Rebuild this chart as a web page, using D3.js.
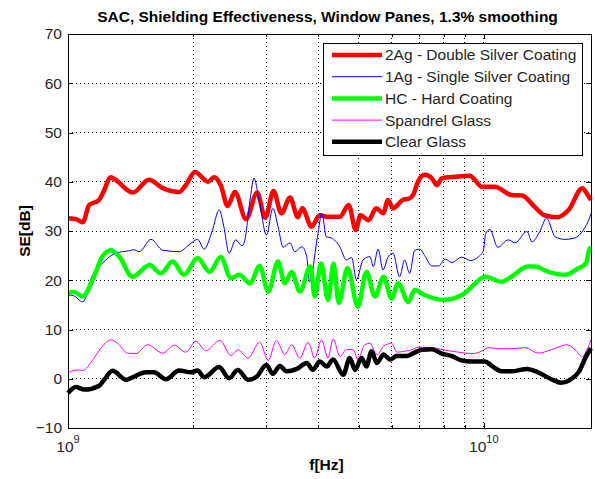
<!DOCTYPE html>
<html>
<head>
<meta charset="utf-8">
<script src="https://cdn.jsdelivr.net/npm/d3@7"></script>
<style>
  body { margin: 0; background: #fff; }
  text { font-family: Arial, "Liberation Sans", Helvetica, sans-serif; }
</style>
</head>
<body>
<div class="canvas"></div>
<script>
// Frequencies in GHz, shielding effectiveness in dB
const freq2Ag = [1.00,1.045,1.085,1.125,1.185,1.213,1.268,1.30,1.433,1.566,1.69,1.85,1.92,2.02,2.17,2.245,2.33,2.42,2.52,2.68,2.85,2.98,3.12,3.26,3.42,3.57,3.66,3.85,4.03,4.19,4.51,4.73,4.92,5.05,5.28,5.51,5.73,5.88,6.05,6.38,6.62,6.78,6.94,7.21,7.5,7.71,7.93,8.52,9.26,9.51,9.89,10.62,11.65,12.35,13.25,13.99,15.05,16.0,17.25,17.8,18.1]
const se2Ag = [32.6,32.4,31.8,35.3,36.2,37.7,40.9,40.4,37.8,40.4,38.7,37.9,39.3,42.0,40.0,40.9,39.3,35.1,37.9,32.4,37.8,32.7,38.1,33.6,36.8,32.8,34.6,30.9,33.2,32.9,32.9,35.3,30.2,33.2,32.2,34.6,33.6,36.3,34.6,36.3,36.6,37.5,40.0,41.4,40.7,39.3,40.7,41.0,41.2,40.4,39.0,39.0,37.3,37.2,34.9,33.2,32.8,34.3,38.7,37.2,36.3]

const freq1Ag = [1.00,1.028,1.085,1.146,1.19,1.305,1.405,1.44,1.483,1.584,1.69,1.85,1.955,2.05,2.125,2.22,2.31,2.37,2.44,2.53,2.62,2.66,2.74,2.80,2.89,3.0,3.11,3.2,3.29,3.42,3.51,3.65,3.75,3.81,3.98,4.08,4.18,4.30,4.51,4.67,4.81,4.94,5.12,5.32,5.42,5.57,5.72,5.89,6.05,6.27,6.45,6.63,6.82,7.01,7.23,7.5,7.78,8.07,8.38,8.85,9.28,9.72,9.98,10.1,10.34,10.8,11.45,11.88,12.7,13.05,13.63,14.15,14.85,15.68,16.57,17.35,18.0,18.1]
const se1Ag = [17.0,16.9,15.6,21.1,22.8,25.5,26.0,26.2,25.8,28.3,26.1,25.8,27.2,28.3,26.3,29.9,34.3,30.9,25.5,28.2,27.0,28.0,36.3,40.7,35.6,29.2,34.6,30.9,26.7,27.6,25.8,26.8,24.8,19.7,28.8,33.6,28.8,28.6,26.7,24.1,24.6,20.1,24.1,24.8,22.8,26.3,22.1,24.8,25.5,20.7,24.1,21.4,26.1,26.3,24.8,22.9,22.9,24.3,23.6,24.7,24.0,24.8,26.1,29.5,30.3,26.7,28.2,27.6,29.9,27.8,29.9,32.6,28.8,28.3,28.6,30.2,32.9,33.5]

const freqHC = [1.00,1.035,1.085,1.146,1.21,1.268,1.328,1.43,1.57,1.672,1.785,1.90,2.05,2.19,2.33,2.465,2.58,2.74,2.89,3.03,3.2,3.32,3.45,3.61,3.83,3.92,4.06,4.22,4.35,4.48,4.70,4.98,5.22,5.47,5.74,6.0,6.22,6.58,6.82,7.2,8.0,8.85,9.35,10.07,11.05,11.65,12.75,13.25,14.3,15.67,16.85,17.6,18.0,18.1]
const seHC = [17.4,17.6,16.7,20.1,24.8,26.1,24.8,20.7,23.1,21.4,23.8,21.1,24.5,21.7,24.7,20.4,21.1,19.4,22.9,17.7,23.8,19.4,21.7,17.7,22.8,16.7,23.4,16.0,23.4,15.4,22.5,14.6,21.7,16.7,20.7,16.3,19.4,15.6,18.0,17.0,16.0,17.0,18.7,20.7,19.7,20.7,22.8,22.8,21.7,21.1,22.4,23.4,26.5,26.5]

const freqSpandrel = [1.00,1.055,1.085,1.146,1.20,1.268,1.316,1.39,1.457,1.554,1.69,1.80,1.92,2.03,2.145,2.32,2.465,2.56,2.71,2.89,3.03,3.17,3.32,3.45,3.61,3.78,3.92,4.07,4.22,4.34,4.51,4.67,4.85,4.98,5.17,5.32,5.53,5.74,6.0,6.18,6.46,6.71,6.96,7.5,8.07,8.68,9.35,9.89,10.25,10.84,11.65,12.6,13.5,14.54,15.85,16.57,17.25,17.7,18.1]
const seSpandrel = [1.2,1.8,1.7,3.8,6.2,7.9,7.2,5.2,5.1,6.9,5.2,6.8,5.4,7.6,5.7,7.8,4.7,5.9,4.2,7.4,3.7,7.8,4.9,6.9,4.2,7.4,4.2,7.9,4.2,8.1,4.5,5.9,5.9,3.9,6.9,7.2,4.9,6.6,7.2,5.4,5.6,5.9,6.4,6.3,5.8,5.4,5.1,5.6,6.3,6.1,6.1,6.3,5.2,5.9,6.9,5.9,4.5,5.9,7.9]

const freqClear = [1.00,1.045,1.094,1.19,1.222,1.28,1.38,1.43,1.54,1.61,1.72,1.85,1.975,2.05,2.125,2.31,2.44,2.56,2.71,2.84,3.0,3.11,3.23,3.36,3.55,3.75,3.88,4.03,4.19,4.34,4.59,4.76,4.9,5.08,5.22,5.37,5.53,5.74,5.95,6.17,6.52,6.77,7.1,7.5,7.93,8.38,8.85,9.35,10.07,10.45,11.05,11.65,12.7,13.5,14.54,15.35,16.2,16.95,17.6,18.1]
const seClear = [-2.9,-1.7,-2.2,-1.4,-0.2,1.6,-0.2,0.3,1.3,1.3,-0.1,1.7,1.3,1.7,0.3,2.4,0.1,1.8,-0.2,0.4,2.8,1.0,2.6,1.5,2.0,3.2,1.8,3.5,2.5,3.9,0.8,4.2,1.8,4.2,2.5,5.6,3.2,4.9,3.9,4.6,4.6,5.2,5.9,6.0,5.1,4.6,3.7,3.5,3.5,2.6,1.5,1.5,2.0,1.3,-0.1,-0.8,-0.1,1.5,4.5,6.2]

const seriesNames = ['2Ag - Double Silver Coating', '1Ag - Single Silver Coating', 'HC - Hard Coating', 'Spandrel Glass', 'Clear Glass']

// Axis ticks and labels
const yTicks = [-10, 0, 10, 20, 30, 40, 50, 60, 70]
const xMajorTicks = [1e9, 1e10]
const xMajorLabels = [{ base: '10', exp: '9' }, { base: '10', exp: '10' }]
const xMinorTicks = [2e9, 3e9, 4e9, 5e9, 6e9, 7e9, 8e9, 9e9]

const series = [
  { name: seriesNames[0], freq: freq2Ag, se: se2Ag, color: '#ff0000', width: 4.5 },
  { name: seriesNames[1], freq: freq1Ag, se: se1Ag, color: '#0000ff', width: 1 },
  { name: seriesNames[2], freq: freqHC, se: seHC, color: '#00ff00', width: 4.5 },
  { name: seriesNames[3], freq: freqSpandrel, se: seSpandrel, color: '#ff00ff', width: 1 },
  { name: seriesNames[4], freq: freqClear, se: seClear, color: '#000000', width: 4.5 }
]

const fontSize = 15.5
const dims = { width: 595, height: 479 }
const margin = { top: 34, right: 4, bottom: 51, left: 68 }
const plotW = dims.width - margin.left - margin.right
const plotH = dims.height - margin.top - margin.bottom

const svg = d3.select('.canvas')
  .append('svg')
    .attr('width', dims.width)
    .attr('height', dims.height)

const graph = svg.append('g')
  .attr('transform', `translate(${margin.left} ${margin.top})`)

const x = d3.scaleLog()
  .domain([1e9, 1.81e10])
  .range([0, plotW])

const y = d3.scaleLinear()
  .domain([-10, 70])
  .range([plotH, 0])

// Dotted grid
const grid = graph.append('g').attr('class', 'grid')
grid.selectAll('line.gx')
  .data(xMinorTicks.concat([1e10]))
  .enter().append('line')
    .attr('x1', d => x(d)).attr('x2', d => x(d))
    .attr('y1', 0).attr('y2', plotH)
grid.selectAll('line.gy')
  .data(yTicks.slice(1, -1))
  .enter().append('line')
    .attr('x1', 0).attr('x2', plotW)
    .attr('y1', d => y(d)).attr('y2', d => y(d))
grid.selectAll('line')
  .attr('stroke', '#000')
  .attr('stroke-width', 1)
  .attr('stroke-dasharray', '1,3')
  .attr('shape-rendering', 'crispEdges')

// Data lines
const line = d3.line()
  .x(d => x(d[0] * 1e9))
  .y(d => y(d[1]))
  .curve(d3.curveMonotoneX)

graph.append('g')
  .selectAll('path')
  .data(series)
  .enter().append('path')
    .attr('d', s => line(d3.zip(s.freq, s.se)))
    .attr('fill', 'none')
    .attr('stroke', s => s.color)
    .attr('stroke-width', s => s.width)
    .attr('stroke-linejoin', 'round')

// Axes: ticks pointing inward on all four sides
const styleAxis = g => {
  g.select('.domain').remove()
  g.selectAll('line').attr('stroke', '#000').attr('shape-rendering', 'crispEdges')
  g.selectAll('text')
    .attr('font-size', fontSize)
    .attr('font-family', 'Arial, "Liberation Sans", sans-serif')
    .attr('fill', '#262626')
}

graph.append('g')
  .call(d3.axisLeft(y).tickValues(yTicks).tickSize(-5).tickPadding(6))
  .call(styleAxis)

graph.append('g')
  .attr('transform', `translate(${plotW} 0)`)
  .call(d3.axisRight(y).tickValues(yTicks).tickSize(-5).tickFormat(''))
  .call(styleAxis)

const xTickSets = [
  { values: xMajorTicks, size: 5 },
  { values: xMinorTicks, size: 3 }
]
xTickSets.forEach(set => {
  graph.append('g')
    .attr('transform', `translate(0 ${plotH})`)
    .call(d3.axisBottom(x).tickValues(set.values).tickSize(-set.size).tickFormat(''))
    .call(styleAxis)
  graph.append('g')
    .call(d3.axisTop(x).tickValues(set.values).tickSize(-set.size).tickFormat(''))
    .call(styleAxis)
})

// Log tick labels with superscript exponents
const xLabels = graph.append('g')
  .selectAll('text')
  .data(xMajorTicks)
  .enter().append('text')
    .attr('x', d => x(d))
    .attr('y', plotH + 24)
    .attr('text-anchor', 'middle')
    .attr('font-size', fontSize)
    .attr('fill', '#262626')
xLabels.append('tspan').text((d, i) => xMajorLabels[i].base)
xLabels.append('tspan')
  .attr('dy', -9)
  .attr('font-size', 11)
  .text((d, i) => xMajorLabels[i].exp)

// Plot box
graph.append('rect')
  .attr('width', plotW)
  .attr('height', plotH)
  .attr('fill', 'none')
  .attr('stroke', '#000')
  .attr('shape-rendering', 'crispEdges')

// Titles
svg.append('text')
  .attr('x', margin.left + plotW / 2 - 2)
  .attr('y', 22)
  .attr('text-anchor', 'middle')
  .attr('font-size', fontSize)
  .attr('font-weight', 'bold')
  .text('SAC, Shielding Effectiveness, Window Panes, 1.3% smoothing')

svg.append('text')
  .attr('transform', `translate(30 ${margin.top + plotH / 2}) rotate(-90)`)
  .attr('text-anchor', 'middle')
  .attr('font-size', fontSize)
  .attr('font-weight', 'bold')
  .text('SE[dB]')

svg.append('text')
  .attr('x', margin.left + plotW / 2 - 3)
  .attr('y', 470)
  .attr('text-anchor', 'middle')
  .attr('font-size', fontSize)
  .attr('font-weight', 'bold')
  .text('f[Hz]')

// Legend
const legend = graph.append('g')
  .attr('transform', 'translate(255 9)')

legend.append('rect')
  .attr('width', 259)
  .attr('height', 112)
  .attr('fill', '#fff')
  .attr('stroke', '#000')
  .attr('shape-rendering', 'crispEdges')

const rows = legend.selectAll('g.row')
  .data(series)
  .enter().append('g')
    .attr('transform', (d, i) => `translate(0 ${12 + i * 21.7})`)

rows.append('line')
  .attr('x1', 9).attr('x2', 59)
  .attr('stroke', d => d.color)
  .attr('stroke-width', d => d.width)

rows.append('text')
  .attr('x', 62)
  .attr('dy', '0.35em')
  .attr('font-size', fontSize)
  .attr('fill', '#262626')
  .text(d => d.name)
</script>
</body>
</html>
